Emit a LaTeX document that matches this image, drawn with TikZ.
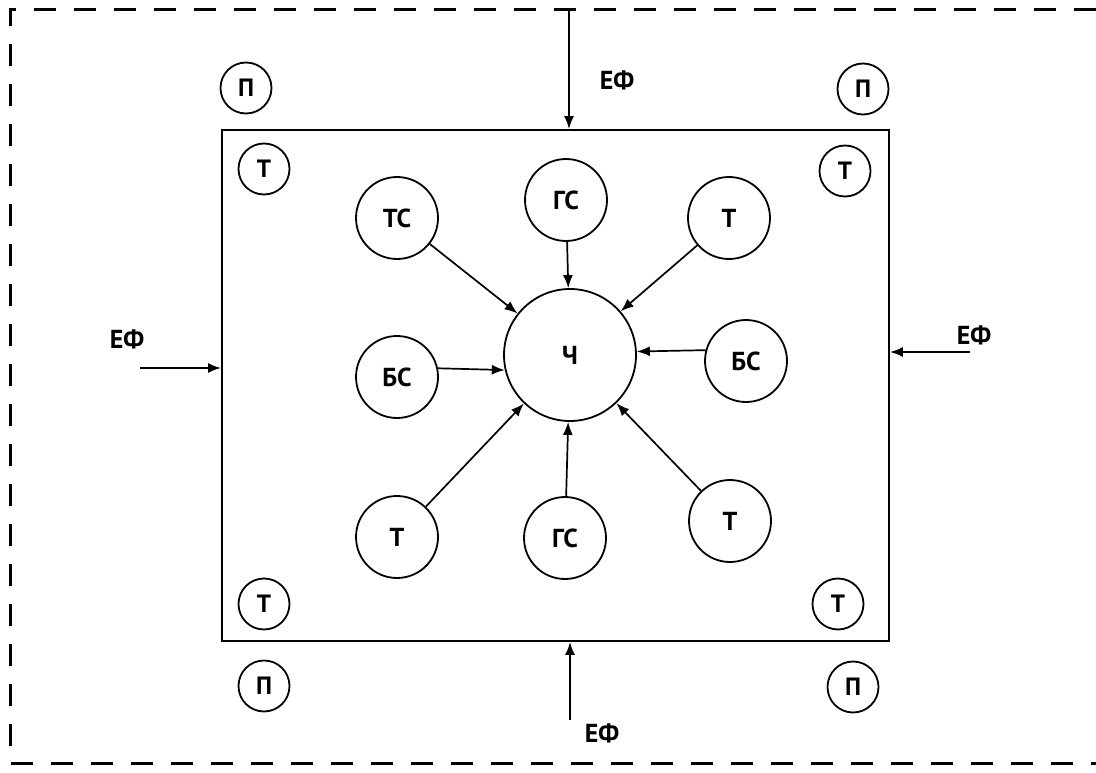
\documentclass[tikz,border=0pt]{standalone}
\usepackage{fontspec}
\setmainfont{PT Sans}
\usetikzlibrary{arrows.meta}
\begin{document}
\begin{tikzpicture}[x=1pt,y=-1pt,
  circ/.style={draw,circle,line width=1.8pt,inner sep=0pt},
  smallc/.style={circ,minimum size=51pt,font=\fontsize{25}{25}\selectfont\bfseries},
  midc/.style={circ,minimum size=82pt,font=\fontsize{26}{26}\selectfont\bfseries},
  bigc/.style={circ,minimum size=132pt,font=\fontsize{26}{26}\selectfont\bfseries},
  arr/.style={-{Latex[length=13pt,width=10pt]},line width=1.7pt},
  lbl/.style={font=\fontsize{26}{26}\selectfont\bfseries,inner sep=0pt}]
\useasboundingbox (0,0) rectangle (1096,773);
% dashed outer border
\draw[line width=3pt,dash pattern=on 22pt off 18pt] (1096,10) -- (10,10) -- (10,763) -- (1096,763);
% inner box
\node[draw,line width=1.9pt,minimum width=667pt,minimum height=511pt,inner sep=0pt] (box) at (555.5,385.5) {};
% corner circles
\node[smallc] (p1) at (246,88) {П};
\node[smallc] (p2) at (863,89) {П};
\node[smallc] (t1) at (264,169) {Т};
\node[smallc] (t2) at (845,171) {Т};
\node[smallc] (t3) at (264,604) {Т};
\node[smallc] (t4) at (838,604) {Т};
\node[smallc] (p3) at (264,686) {П};
\node[smallc] (p4) at (853,687) {П};
% centre
\node[bigc] (ch) at (570,355) {Ч};
% middle circles
\node[midc] (tc) at (397,218) {ТС};
\node[midc] (gs1) at (566,200) {ГС};
\node[midc] (tr) at (729,218) {Т};
\node[midc] (bs1) at (397,377) {БС};
\node[midc] (bs2) at (746,361) {БС};
\node[midc] (tbl) at (397,537) {Т};
\node[midc] (gs2) at (565,538) {ГС};
\node[midc] (tbr) at (730,521) {Т};
% arrows to centre
\draw[arr] (tc) -- (ch);
\draw[arr] (gs1) -- (ch);
\draw[arr] (tr) -- (ch);
\draw[arr] (bs1.12) -- (ch.193);
\draw[arr] (bs2.165) -- (ch.3);
\draw[arr] (tbl) -- (ch);
\draw[arr] (gs2) -- (ch);
\draw[arr] (tbr) -- (ch);
% external factors
\coordinate (eT) at (569,8);
\coordinate (eL) at (140,368);
\coordinate (eR) at (970,352);
\coordinate (eB) at (570,720);
\draw[arr] (eT) -- (eT |- box.north);
\draw[arr] (eL) -- (eL -| box.west);
\draw[arr] (eR) -- (eR -| box.east);
\draw[arr] (eB) -- (eB |- box.south);
\node[lbl] (lT) at (617,80) {ЕФ};
\node[lbl] (lL) at (127,339) {ЕФ};
\node[lbl] (lR) at (974,335) {ЕФ};
\node[lbl] (lB) at (602,733) {ЕФ};
\end{tikzpicture}
\end{document}
